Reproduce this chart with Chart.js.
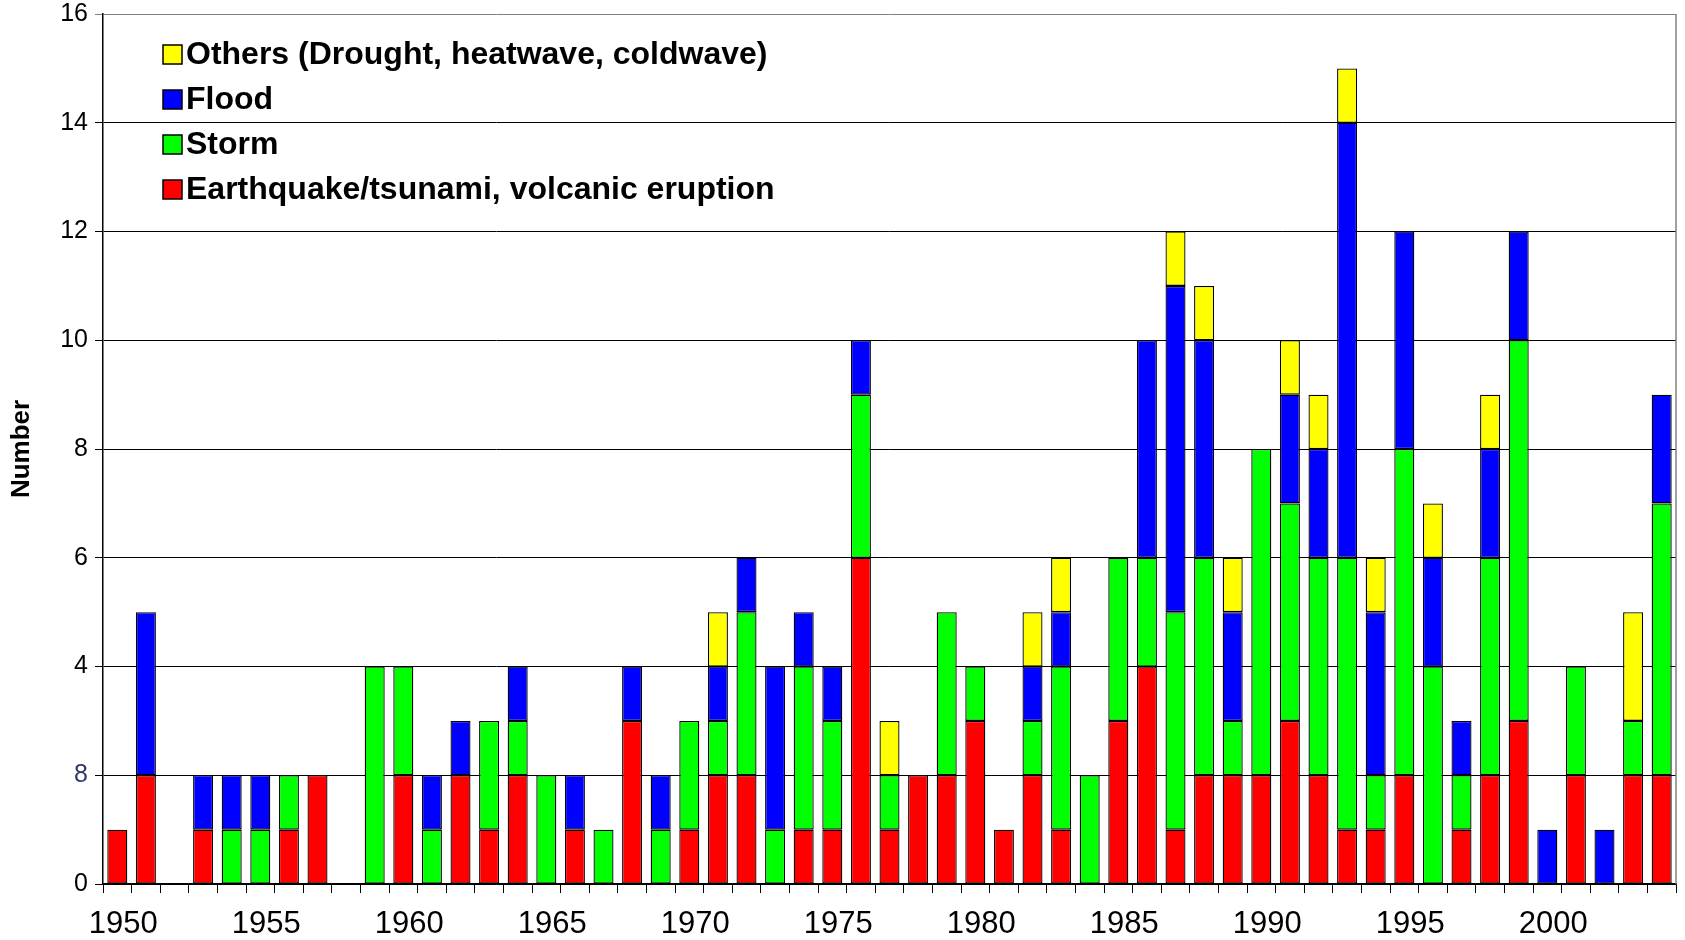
<!DOCTYPE html>
<html>
<head>
<meta charset="utf-8">
<script src="https://cdn.jsdelivr.net/npm/chart.js@4.4.0/dist/chart.umd.min.js"></script>
<style>
  html, body { margin: 0; padding: 0; background: #fff; }
  canvas { display: block; }
</style>
</head>
<body>
<canvas id="disasters" width="1685" height="940"></canvas>
<script>
const years = [1950, 1951, 1952, 1953, 1954, 1955, 1956, 1957, 1958, 1959,
               1960, 1961, 1962, 1963, 1964, 1965, 1966, 1967, 1968, 1969,
               1970, 1971, 1972, 1973, 1974, 1975, 1976, 1977, 1978, 1979,
               1980, 1981, 1982, 1983, 1984, 1985, 1986, 1987, 1988, 1989,
               1990, 1991, 1992, 1993, 1994, 1995, 1996, 1997, 1998, 1999,
               2000, 2001, 2002, 2003, 2004]

// counts per year, bottom of the stack first
const quake  = [1, 2, 0, 1, 0, 0, 1, 2, 0, 0,
                2, 0, 2, 1, 2, 0, 1, 0, 3, 0,
                1, 2, 2, 0, 1, 1, 6, 1, 2, 2,
                3, 1, 2, 1, 0, 3, 4, 1, 2, 2,
                2, 3, 2, 1, 1, 2, 0, 1, 2, 3,
                0, 2, 0, 2, 2]
const storm  = [0, 0, 0, 0, 1, 1, 1, 0, 0, 4,
                2, 1, 0, 2, 1, 2, 0, 1, 0, 1,
                2, 1, 3, 1, 3, 2, 3, 1, 0, 3,
                1, 0, 1, 3, 2, 3, 2, 4, 4, 1,
                6, 4, 4, 5, 1, 6, 4, 1, 4, 7,
                0, 2, 0, 1, 5]
const flood  = [0, 3, 0, 1, 1, 1, 0, 0, 0, 0,
                0, 1, 1, 0, 1, 0, 1, 0, 1, 1,
                0, 1, 1, 3, 1, 1, 1, 0, 0, 0,
                0, 0, 1, 1, 0, 0, 4, 6, 4, 2,
                0, 2, 2, 8, 3, 4, 2, 1, 2, 2,
                1, 0, 1, 0, 2]
const others = [0, 0, 0, 0, 0, 0, 0, 0, 0, 0,
                0, 0, 0, 0, 0, 0, 0, 0, 0, 0,
                0, 1, 0, 0, 0, 0, 0, 1, 0, 0,
                0, 0, 1, 1, 0, 0, 0, 1, 1, 1,
                0, 1, 1, 1, 1, 0, 1, 0, 1, 0,
                0, 0, 0, 2, 0]

const seriesNames = ['Earthquake/tsunami, volcanic eruption', 'Storm', 'Flood',
                     'Others (Drought, heatwave, coldwave)']
const seriesColors = ['#ff0000', '#00ff00', '#0000ff', '#ffff00']

// the source chart really prints "8" at the 2 tick
const yTickLabels = ['0', '8', '4', '6', '8', '10', '12', '14', '16']

const FONT = '"Liberation Sans", Arial, sans-serif'

// legend drawn inside the plot, top-left, last series on top
const boxLegend = {
    id: 'boxLegend',
    afterDraw(chart) {
        const { ctx, chartArea: { left, top } } = chart
        const sets = chart.data.datasets.slice().reverse()
        ctx.save()
        ctx.font = 'bold 32px ' + FONT
        ctx.textBaseline = 'middle'
        ctx.textAlign = 'left'
        sets.forEach((ds, i) => {
            const y = top + 40.5 + i * 45
            ctx.fillStyle = ds.backgroundColor
            ctx.fillRect(left + 60, y - 9.5, 19, 19)
            ctx.lineWidth = 1.5
            ctx.strokeStyle = '#000'
            ctx.strokeRect(left + 60, y - 9.5, 19, 19)
            ctx.fillStyle = '#000'
            ctx.fillText(ds.label, left + 83, y + 1)
        })
        ctx.restore()
    }
}

// grey right edge of the plot box
const plotFrame = {
    id: 'plotFrame',
    beforeDatasetsDraw(chart) {
        const { ctx, chartArea: { top, right, bottom } } = chart
        ctx.save()
        ctx.strokeStyle = '#808080'
        ctx.lineWidth = 1.5
        ctx.beginPath()
        ctx.moveTo(right, top)
        ctx.lineTo(right, bottom)
        ctx.stroke()
        ctx.restore()
    }
}

const seriesData = [quake, storm, flood, others]

new Chart(document.getElementById('disasters'), {
    type: 'bar',
    data: {
        labels: years,
        datasets: seriesData.map((vals, i) => ({
            label: seriesNames[i],
            data: vals.map(v => v || null),
            backgroundColor: seriesColors[i],
            borderColor: '#000',
            borderWidth: 1.3,
            borderSkipped: false,
            barPercentage: 0.7,
            categoryPercentage: 1
        }))
    },
    plugins: [plotFrame, boxLegend],
    options: {
        responsive: false,
        animation: false,
        layout: { padding: { top: 14, right: 9, left: 0, bottom: 0 } },
        plugins: {
            legend: { display: false },
            tooltip: { enabled: false }
        },
        scales: {
            x: {
                stacked: true,
                afterFit(scale) { scale.height = 56 },
                grid: {
                    drawOnChartArea: false,
                    drawTicks: true,
                    tickLength: 9,
                    color: '#000',
                    lineWidth: 1
                },
                border: { color: '#000', width: 1.5 },
                ticks: {
                    autoSkip: false,
                    maxRotation: 0,
                    labelOffset: 6,
                    padding: 13,
                    color: '#000',
                    font: { family: FONT, size: 31 },
                    callback: (val, i) => years[i] % 5 === 0 ? String(years[i]) : ''
                }
            },
            y: {
                stacked: true,
                min: 0,
                max: 16,
                afterFit(scale) {
                    scale.width = 103
                    scale.paddingTop = 0
                    scale.paddingBottom = 0
                },
                grid: {
                    tickLength: 8,
                    lineWidth: 1,
                    color: ctx => ctx.tick && ctx.tick.value === 16 ? '#808080' : '#000'
                },
                border: { color: '#000', width: 1.5 },
                ticks: {
                    stepSize: 2,
                    padding: 7,
                    font: { family: FONT, size: 25 },
                    color: ctx => ctx.tick && ctx.tick.value === 2 ? '#2f3b66' : '#000',
                    callback: v => yTickLabels[v / 2]
                },
                title: {
                    display: true,
                    text: 'Number',
                    color: '#000',
                    padding: { top: 6, bottom: 0 },
                    font: { family: FONT, size: 26, weight: 'bold' }
                }
            }
        }
    }
})
</script>
</body>
</html>
